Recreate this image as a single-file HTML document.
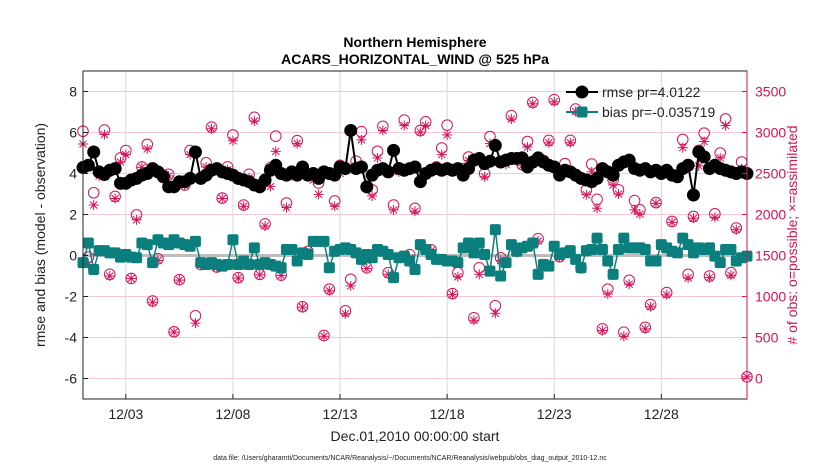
<!DOCTYPE html>
<html><head><meta charset="utf-8"><style>
body{margin:0;background:#fff;width:830px;height:470px;overflow:hidden}
svg{display:block;font-family:"Liberation Sans",sans-serif}
</style></head><body>
<svg id="chart" width="830" height="470" viewBox="0 0 830 470" xmlns="http://www.w3.org/2000/svg">
<text x="415" y="47" text-anchor="middle" font-size="14" font-weight="bold">Northern Hemisphere</text>
<text x="415" y="64" text-anchor="middle" font-size="14" font-weight="bold">ACARS_HORIZONTAL_WIND @ 525 hPa</text>
<g id="grid"></g>
<g id="marks"></g>
<rect x="83" y="71" width="664" height="328" fill="none" stroke="#222" stroke-width="1"/>
<g id="axes"></g>
<text transform="translate(45,235) rotate(-90)" text-anchor="middle" font-size="14" fill="#222">rmse and bias (model - observation)</text>
<text transform="translate(797,235) rotate(-90)" text-anchor="middle" font-size="14" fill="#d6125a"># of obs: o=possible; ×=assimilated</text>
<text x="415" y="441" text-anchor="middle" font-size="14" fill="#222">Dec.01,2010 00:00:00 start</text>
<text x="410" y="460" text-anchor="middle" font-size="7" fill="#222">data file: /Users/gharamti/Documents/NCAR/Reanalysis/~/Documents/NCAR/Reanalysis/webpub/obs_diag_output_2010-12.nc</text>
<g>
<line x1="566" y1="92" x2="598" y2="92" stroke="#000" stroke-width="2"/>
<circle cx="582" cy="92" r="6.5" fill="#000"/>
<text x="602" y="97" font-size="14" fill="#222">rmse pr=4.0122</text>
<line x1="566" y1="112" x2="598" y2="112" stroke="#0b7f7d" stroke-width="2"/>
<rect x="576.5" y="106.5" width="11" height="11" rx="2" fill="#0b7f7d"/>
<text x="602" y="117" font-size="14" fill="#222">bias pr=-0.035719</text>
</g>
</svg>
<script>
const tickDays = [2,7,12,17,22,27];
const tickLabels = ["12/03","12/08","12/13","12/18","12/23","12/28"];
const leftTicks = [8,6,4,2,0,-2,-4,-6];
const rightTicks = [0,500,1000,1500,2000,2500,3000,3500];
const rmse = [4.29,4.40,5.05,4.08,3.95,4.16,4.24,3.52,3.52,3.68,3.76,3.92,4.0,4.24,4.08,3.84,3.35,3.35,3.6,3.6,3.76,5.05,3.76,3.92,4.16,4.24,4.08,4.0,3.92,3.76,3.68,3.6,3.44,3.35,3.68,4.16,4.40,4.0,3.92,4.08,3.92,
4.32,3.92,4.0,3.76,4.08,4.0,3.92,4.32,4.24,6.1,4.24,4.32,3.35,3.92,4.16,4.24,4.08,5.13,4.24,4.16,4.24,4.32,3.6,4.0,4.16,4.24,4.16,4.24,4.16,4.24,3.92,4.24,4.65,4.73,4.48,4.6,5.37,4.56,4.65,4.73,4.73,
4.76,4.32,4.56,4.76,4.56,4.4,4.32,3.92,4.16,4.08,3.92,3.76,3.68,3.6,3.76,4.24,4.08,3.92,4.4,4.56,4.65,4.24,4.16,4.24,4.08,4.16,4.0,4.16,3.92,3.84,4.24,4.4,2.95,5.05,4.81,4.24,4.4,4.24,4.16,4.08,4.0,4.08,4.0];
const bias = [-0.35,0.61,-0.68,0.24,0.24,0.13,0.13,-0.08,0.05,-0.08,-0.11,0.61,0.53,-0.35,0.77,0.61,0.53,0.77,0.61,0.53,0.45,0.69,-0.35,-0.44,-0.35,-0.44,-0.52,-0.44,0.77,-0.44,-0.27,-0.44,0.37,-0.44,-0.35,-0.44,-0.52,-0.6,0.29,0.29,-0.27,
0.13,0.05,0.69,0.69,0.69,-0.6,0.21,0.29,0.37,0.29,0.13,-0.19,0.05,-0.11,0.29,0.21,0.05,-1.08,-0.11,-0.03,-0.27,-0.68,0.53,0.29,0.05,-0.19,-0.19,-0.27,-0.27,-0.35,0.37,0.61,0.13,0.61,0.05,-0.76,1.26,-1.0,-0.35,0.53,0.21,
0.37,0.45,0.61,-0.92,-0.44,-0.52,0.45,0.05,0.13,0.24,-0.19,-0.6,0.24,0.29,0.85,0.29,-0.27,-0.92,0.29,0.85,0.37,0.37,0.37,0.29,-0.27,-0.27,0.53,0.37,0.21,0.13,0.85,0.53,0.13,0.37,0.29,0.37,-0.03,-0.35,0.29,0.29,-0.27,-0.11,-0.03];
const possible = [3015,1480,2265,2510,3030,1270,2220,2690,2780,1220,1995,2580,2855,945,1460,2480,2490,570,1205,2360,2780,765,1390,2630,3065,1360,2200,2580,2970,1230,2115,2490,3185,1270,1885,2570,2955,1260,2140,2510,2900,
875,1550,2490,2385,525,1090,2165,2600,825,1210,2650,3010,1350,2300,2770,3075,1290,2115,2570,3150,1510,2075,3025,3130,1570,2580,2810,3090,1035,1290,2560,2700,740,1350,2500,2950,887,1472,2670,3205,1560,
2610,2890,3367,1705,2660,2903,3400,1485,2620,2903,3286,1350,2300,2615,2185,605,1090,2420,2300,565,1198,2170,2057,625,900,2145,2512,1048,1915,2480,2915,1270,1976,2782,2992,1250,2008,2750,3165,1290,1835,2640,20];
const assimilated = [2860,1390,2115,2470,2975,1250,2195,2640,2730,1220,1935,2575,2800,930,1440,2465,2470,565,1200,2355,2730,675,1390,2580,3045,1355,2195,2545,2900,1225,2100,2445,3140,1265,1860,2340,2770,1255,2085,2475,2865,
870,1530,2420,2245,515,1070,2100,2500,790,1130,2590,2910,1340,2225,2690,3025,1270,2055,2520,3085,1465,2040,3005,3085,1560,2550,2730,2970,1025,1240,2490,2660,710,1270,2460,2865,795,1440,2610,3165,1535,
2595,2822,3350,1675,2620,2875,3375,1475,2560,2875,3255,1340,2240,2520,2077,585,1030,2360,2250,515,1150,2057,2005,605,875,2135,2480,1020,1905,2450,2815,1225,1955,2593,2890,1230,1965,2690,3085,1260,1815,2560,20];
const stepDays = 0.25;

const NS="http://www.w3.org/2000/svg";
const X0=83,X1=747,Y0=71,Y1=399;
const xs=d=>X0+(d/31)*(X1-X0);
const yl=v=>Y0+(9-v)/16*(Y1-Y0);
const yr=n=>yl(n/250-6);
function mk(tag,attrs,parent){const e=document.createElementNS(NS,tag);for(const k in attrs)e.setAttribute(k,attrs[k]);parent.appendChild(e);return e;}
const grid=document.getElementById('grid'),marks=document.getElementById('marks'),axes=document.getElementById('axes');
leftTicks.forEach(v=>{
  const l=mk('line',{x1:X0,x2:X1,y1:yl(v),y2:yl(v),stroke:'#f4c8d6','stroke-width':1},grid);
  
  
  const t=mk('text',{x:77,y:yl(v)+5,'text-anchor':'end','font-size':14,fill:'#222'},axes);
  t.textContent=v;
  
  
  mk('line',{x1:X0,x2:X0+5,y1:yl(v),y2:yl(v),stroke:'#222'},axes);
});
rightTicks.forEach(n=>{
  const t=mk('text',{x:755,y:yr(n)+5,'font-size':14,fill:'#d6125a'},axes);
  t.textContent=n;
  
  
  mk('line',{x1:X1-5,x2:X1,y1:yr(n),y2:yr(n),stroke:'#d6125a'},axes);
});
mk('line',{x1:X1,x2:X1,y1:Y0,y2:Y1,stroke:'#d6125a','stroke-width':1},axes);
tickDays.forEach((d,i)=>{
  const l=mk('line',{x1:xs(d),x2:xs(d),y1:Y0,y2:Y1,stroke:'#d8d8d8','stroke-width':1},grid);
  
  
  mk('line',{x1:xs(d),x2:xs(d),y1:Y1-5,y2:Y1,stroke:'#222'},axes);
  const t=mk('text',{x:xs(d),y:419,'text-anchor':'middle','font-size':14,fill:'#222'},axes);
  t.textContent=tickLabels[i];
  
  
});
const z=mk('line',{x1:X0,x2:X1,y1:yl(0),y2:yl(0),stroke:'#bdbdbd','stroke-width':3},marks);


const CR='#d6125a';
possible.forEach((n,i)=>{
  const c=mk('circle',{cx:xs(i*stepDays),cy:yr(n),r:5.3,fill:'none',stroke:CR,'stroke-width':1},marks);
  
  
});
assimilated.forEach((n,i)=>{
  const cx=xs(i*stepDays),cy=yr(n),r=5;
  const g=mk('g',{stroke:CR,'stroke-width':1},marks);
  
  
  [0,45,90,135].forEach(a=>{const rad=a*Math.PI/180;mk('line',{x1:cx-r*Math.cos(rad),y1:cy-r*Math.sin(rad),x2:cx+r*Math.cos(rad),y2:cy+r*Math.sin(rad)},g);});
});
const bp=mk('polyline',{points:bias.map((v,i)=>xs(i*stepDays)+','+yl(v)).join(' '),fill:'none',stroke:'#0b7f7d','stroke-width':1.5},marks);


bias.forEach((v,i)=>{
  const s=mk('rect',{x:xs(i*stepDays)-5.5,y:yl(v)-5.5,width:11,height:11,rx:2,fill:'#0b7f7d'},marks);
  
  
});
const rp=mk('polyline',{points:rmse.map((v,i)=>xs(i*stepDays)+','+yl(v)).join(' '),fill:'none',stroke:'#000','stroke-width':2},marks);


rmse.forEach((v,i)=>{
  const c=mk('circle',{cx:xs(i*stepDays),cy:yl(v),r:6.5,fill:'#000'},marks);
  
  
});
</script>
</body></html>
